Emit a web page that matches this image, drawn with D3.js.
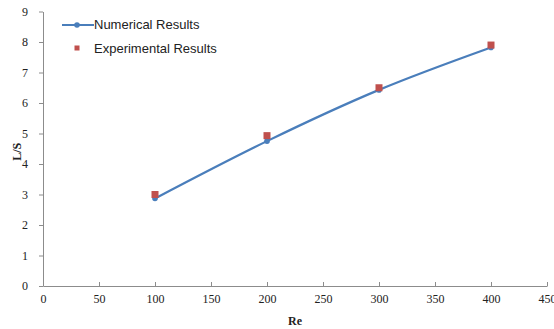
<!DOCTYPE html>
<html>
<head>
<meta charset="utf-8">
<script src="https://cdn.jsdelivr.net/npm/d3@7"></script>
<style>
  html, body { margin: 0; padding: 0; background: #fff; }
  svg { display: block; }
</style>
</head>
<body>
<script>
// Reattachment length L/S against Reynolds number
const reynolds = [100, 200, 300, 400];
const numerical = [2.87, 4.75, 6.43, 7.82];
const experimental = [3.0, 4.93, 6.5, 7.9];
const xTicks = [0, 50, 100, 150, 200, 250, 300, 350, 400, 450];
const yTicks = [0, 1, 2, 3, 4, 5, 6, 7, 8, 9];

const W = 554, H = 329;
const svg = d3.select("body").append("svg").attr("width", W).attr("height", H);

const x = d3.scaleLinear().domain([0, 450]).range([43, 547]);
const y = d3.scaleLinear().domain([0, 9]).range([286, 11.5]);

const axisColor = "#8c8c8c";
const serif = "'Liberation Serif', 'Times New Roman', serif";
const sans = "'Liberation Sans', Arial, sans-serif";

// X axis
const gx = svg.append("g").attr("transform", `translate(0,${y(0)})`)
  .call(d3.axisBottom(x).tickValues(xTicks).tickSizeInner(-4).tickSizeOuter(0).tickPadding(8));
gx.select(".domain").attr("stroke", axisColor);
gx.selectAll(".tick line").attr("stroke", axisColor);
gx.selectAll(".tick text").attr("font-family", serif).attr("font-size", 12).attr("fill", "#222");

// Y axis
const gy = svg.append("g").attr("transform", `translate(${x(0)},0)`)
  .call(d3.axisLeft(y).tickValues(yTicks).tickSizeInner(4).tickSizeOuter(0).tickPadding(11));
gy.select(".domain").attr("stroke", axisColor);
gy.selectAll(".tick line").attr("stroke", axisColor);
gy.selectAll(".tick text").attr("font-family", serif).attr("font-size", 12).attr("fill", "#222");

// Axis titles
svg.append("text").attr("x", x(225)).attr("y", 325).attr("text-anchor", "middle")
  .attr("font-family", serif).attr("font-weight", "bold").attr("font-size", 12).attr("fill", "#222")
  .text("Re");
svg.append("text").attr("transform", `translate(21,${y(4.4)}) rotate(-90)`).attr("text-anchor", "middle")
  .attr("font-family", serif).attr("font-weight", "bold").attr("font-size", 12).attr("fill", "#222")
  .text("L/S");

const blue = "#4a7ebb", red = "#c0504d";

// Numerical curve
const pts = reynolds.map((r, i) => [r, numerical[i]]);
svg.append("path").datum(pts)
  .attr("fill", "none").attr("stroke", blue).attr("stroke-width", 2.2)
  .attr("d", d3.line().x(d => x(d[0])).y(d => y(d[1])).curve(d3.curveMonotoneX));
svg.selectAll("circle.num").data(pts).enter().append("circle")
  .attr("cx", d => x(d[0])).attr("cy", d => y(d[1])).attr("r", 2.8).attr("fill", blue);

// Experimental points
const sq = 7;
svg.selectAll("rect.exp").data(reynolds.map((r, i) => [r, experimental[i]])).enter().append("rect")
  .attr("x", d => x(d[0]) - sq / 2).attr("y", d => y(d[1]) - sq / 2)
  .attr("width", sq).attr("height", sq).attr("fill", red);

// Legend
const lg = svg.append("g");
lg.append("line").attr("x1", 62).attr("x2", 94).attr("y1", 25).attr("y2", 25)
  .attr("stroke", blue).attr("stroke-width", 2);
lg.append("circle").attr("cx", 77).attr("cy", 25).attr("r", 2.8).attr("fill", blue);
lg.append("text").attr("x", 94).attr("y", 29).attr("font-family", sans).attr("font-size", 13)
  .attr("fill", "#222").text("Numerical Results");
lg.append("rect").attr("x", 74.5).attr("y", 45.5).attr("width", 5).attr("height", 5).attr("fill", red);
lg.append("text").attr("x", 94).attr("y", 53).attr("font-family", sans).attr("font-size", 13)
  .attr("fill", "#222").text("Experimental Results");
</script>
</body>
</html>
